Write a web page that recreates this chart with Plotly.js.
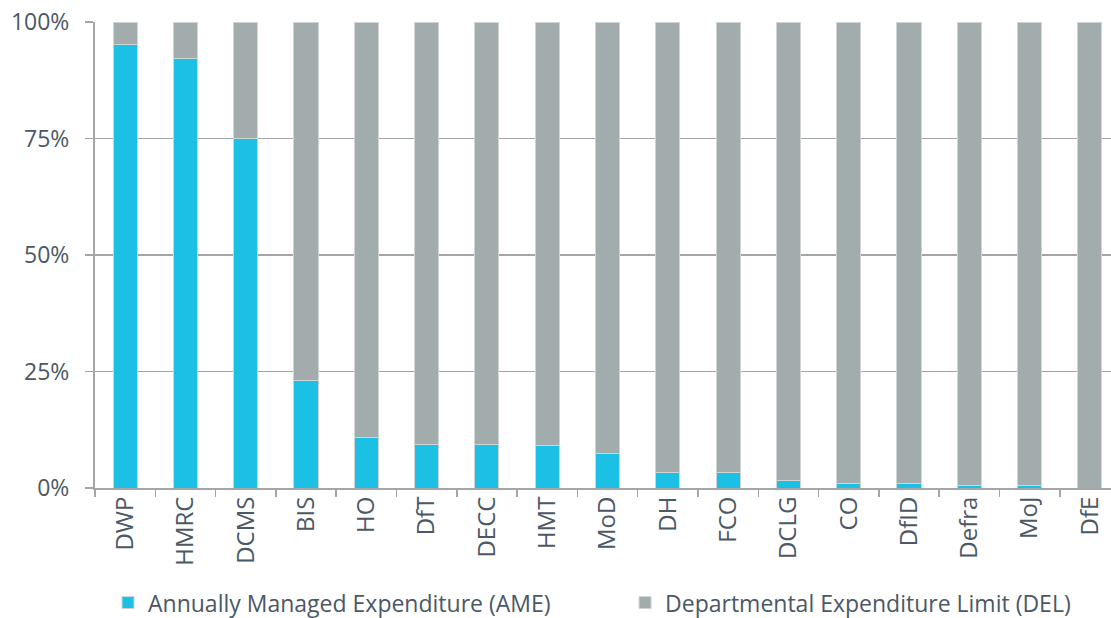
<!DOCTYPE html>
<html>
<head>
<meta charset="utf-8">
<script src="https://cdn.plot.ly/plotly-3.0.1.min.js"></script>
<style>html,body{margin:0;padding:0;background:#fff;}#chart{width:1111px;height:618px;}</style>
</head>
<body>
<div id="chart"></div>
<script>
const departments = ["DWP","HMRC","DCMS","BIS","HO","DfT","DECC","HMT","MoD","DH","FCO","DCLG","CO","DfID","Defra","MoJ","DfE"];
const ameShare = [0.952,0.921,0.750,0.230,0.109,0.094,0.094,0.092,0.075,0.034,0.034,0.017,0.010,0.009,0.006,0.006,0.000];
const delShare = [0.048,0.079,0.250,0.770,0.891,0.906,0.906,0.908,0.925,0.966,0.966,0.983,0.990,0.991,0.994,0.994,1.000];
const yTickVals = [0,0.25,0.5,0.75,1];
const yTickText = ["0%","25%","50%","75%","100%"];
const seriesNames = ["Annually Managed Expenditure (AME)","Departmental Expenditure Limit (DEL)"];

const textColor = "#4b5866";
const gridColor = "#a2a6a6";
const fontFamily = "'Open Sans', 'Noto Sans', sans-serif";

const traces = [
  {type:"bar", name:seriesNames[0], x:departments, y:ameShare, legend:"legend",
   marker:{color:"#1bc0e4", line:{color:"#cfd4d4", width:1}}, hoverinfo:"x+y"},
  {type:"bar", name:seriesNames[1], x:departments, y:delShare, legend:"legend2",
   marker:{color:"#a3acac", line:{color:"#cfd4d4", width:1}}, hoverinfo:"x+y"}
];

const legendCommon = {orientation:"h", xanchor:"left", y:-0.246, yanchor:"middle",
  font:{size:23, color:textColor}, bgcolor:"rgba(0,0,0,0)"};

const layout = {
  width:1111, height:618,
  margin:{l:95, r:0, t:22, b:130, autoexpand:false},
  barmode:"stack", bargap:0.6,
  paper_bgcolor:"#ffffff", plot_bgcolor:"#ffffff",
  font:{family:fontFamily, size:23, color:textColor},
  xaxis:{type:"category", range:[-0.5,16.35], tickangle:-90, tickson:"boundaries",
         ticks:"outside", ticklen:7, tickwidth:1.5, tickcolor:gridColor,
         showline:true, linecolor:gridColor, linewidth:2, showgrid:false,
         ticklabelstandoff:-3,
         tickfont:{size:24, color:textColor}, automargin:false},
  yaxis:{range:[0,1], tickvals:yTickVals, ticktext:yTickText,
         ticks:"outside", ticklen:8, tickwidth:1.5, tickcolor:gridColor,
         showline:true, linecolor:gridColor, linewidth:2,
         showgrid:true, gridcolor:gridColor, gridwidth:1.5, zeroline:false,
         ticklabelstandoff:11, tickfont:{size:23, color:textColor}, automargin:false},
  showlegend:true,
  legend:Object.assign({x:0.0128}, legendCommon),
  legend2:Object.assign({x:0.5217}, legendCommon)
};

Plotly.newPlot("chart", traces, layout, {displayModeBar:false, staticPlot:true});
</script>
</body>
</html>
